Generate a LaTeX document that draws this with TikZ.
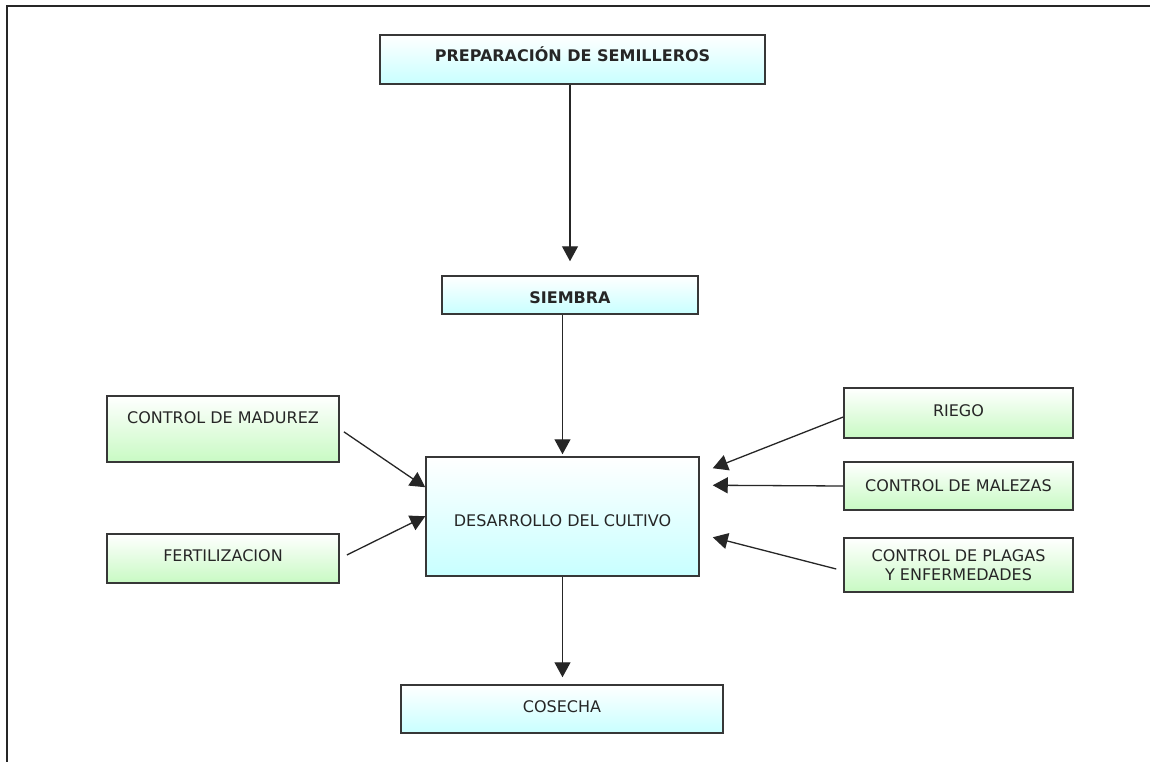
\documentclass[tikz,border=0pt]{standalone}
\usepackage{fontspec}
\setmainfont{DejaVu Sans}
\usetikzlibrary{arrows.meta,calc}

\definecolor{boxline}{RGB}{55,55,55}
\definecolor{cyanfill}{RGB}{200,255,255}
\definecolor{greenfill}{RGB}{200,250,195}

\tikzset{
  basebox/.style={draw=boxline, line width=1.5pt, inner sep=0pt, anchor=base,
    font=\fontsize{16}{19}\selectfont, text=black!85, shading angle=0},
  cyanbox/.style={basebox, top color=white, bottom color=cyanfill},
  greenbox/.style={basebox, top color=white, bottom color=greenfill},
  titlefont/.style={font=\fontsize{16}{19}\selectfont\bfseries},
  arr/.style={draw=black!85, line width=1.3pt,
    -{Triangle[length=15pt,width=16pt]}},
  frameline/.style={draw=black!85, line width=2pt}
}

\begin{document}
\begin{tikzpicture}[x=1pt,y=-1pt]
\useasboundingbox (0,0) rectangle (1150,762);
\fill[white] (0,0) rectangle (1150,762);

% page frame (left and top edges)
\draw[frameline] (7,762) -- (7,6.5) -- (1150,6.5);

% main sequence
\node[cyanbox, titlefont, minimum width=385pt, text height=26.5pt, text depth=22.5pt]
  (prep) at (572.5,61.5) {PREPARACIÓN DE SEMILLEROS};
\node[cyanbox, titlefont, minimum width=256pt, text height=27pt, text depth=11pt]
  (siem) at (570,303) {SIEMBRA};
\node[cyanbox, minimum width=273pt, text height=69pt, text depth=50pt]
  (des) at (562.5,526) {DESARROLLO DEL CULTIVO};
\node[cyanbox, minimum width=322pt, text height=27.5pt, text depth=20.5pt]
  (cos) at (562,712.5) {COSECHA};

% left inputs
\node[greenbox, minimum width=232pt, text height=27pt, text depth=39pt]
  (mad) at (223,423) {CONTROL DE MADUREZ};
\node[greenbox, minimum width=232pt, text height=27pt, text depth=22pt]
  (fer) at (223,561) {FERTILIZACION};

% right inputs
\node[greenbox, minimum width=229pt, text height=28pt, text depth=22pt]
  (rie) at (958.5,416) {RIEGO};
\node[greenbox, minimum width=229pt, text height=29pt, text depth=19pt]
  (mal) at (958.5,491) {CONTROL DE MALEZAS};
\node[greenbox, anchor=center, align=center, minimum width=229pt, minimum height=54pt]
  (pla) at (958.5,565) {CONTROL DE PLAGAS\\Y ENFERMEDADES};

% connectors
\draw[arr, shorten >=14pt] (prep.south -| siem.north) -- (siem.north);
\draw[arr, shorten >=2pt] (siem.south -| des.north) -- (des.north);
\draw[arr, shorten >=7pt] (des.south) -- (cos.north -| des.south);

\draw[arr, shorten <=5pt] (mad.east) -- ([yshift=-31pt]des.north west);
\draw[arr, shorten <=8pt] (fer.east) -- ([yshift=-60pt]des.north west);

\draw[arr] ([yshift=-4pt]rie.west) -- ([xshift=13pt,yshift=-12pt]des.north east);
\draw[arr] (mal.west) -- ([xshift=13pt,yshift=-29pt]des.north east);
\draw[arr] ([xshift=-7pt,yshift=-4pt]pla.west) -- ([xshift=13pt,yshift=-81pt]des.north east);
\end{tikzpicture}
\end{document}
